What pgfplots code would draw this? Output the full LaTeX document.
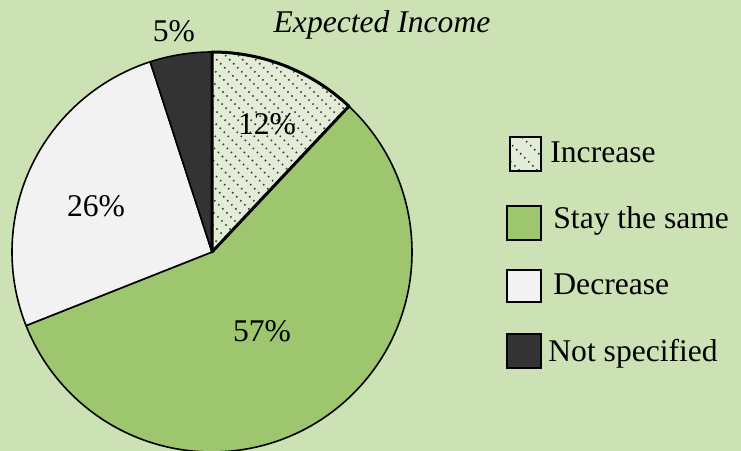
\documentclass[border=0pt]{standalone}
\usepackage{fontspec}
\setmainfont{Liberation Serif}
\usepackage{pgfplots}
\usepackage{pgfplotstable}
\pgfplotsset{compat=1.18}

\definecolor{bg}{RGB}{204,226,181}
\definecolor{col0}{RGB}{226,236,214}
\definecolor{col1}{RGB}{157,198,110}
\definecolor{col2}{RGB}{242,242,242}
\definecolor{col3}{RGB}{51,51,51}
\definecolor{dotcol}{RGB}{60,60,60}

% shares in percent, clockwise from 12 o'clock
\pgfplotstableread{
name value
Increase 12
Stay 57
Decrease 26
NotSpecified 5
}\piedata

\begin{document}
\fontsize{15.8bp}{19bp}\selectfont
\begin{tikzpicture}
\def\cum{90}
\pgfplotsforeachungrouped \i in {0,...,3}{%
  \pgfplotstablegetelem{\i}{value}\of\piedata
  \pgfmathsetmacro\nxt{\cum-3.6*\pgfplotsretval}%
  \expandafter\let\csname sa\i\endcsname\cum
  \expandafter\let\csname ea\i\endcsname\nxt
  \let\cum\nxt
}
\begin{axis}[
  width=370.5bp, height=225.5bp, scale only axis,
  xmin=0, xmax=741, ymin=0, ymax=451,
  hide axis, clip=true,
]
\fill[bg] (axis cs:0,0) rectangle (axis cs:741,451);

\pgfplotsinvokeforeach{0,1,2,3}{
  \filldraw[fill=col#1, line width=0.8bp, line join=round]
    (axis cs:212,199) -- ++(\csname sa#1\endcsname:100bp)
    arc[start angle=\csname sa#1\endcsname, end angle=\csname ea#1\endcsname, radius=100bp] -- cycle;
}

% dotted hatching of the "Increase" slice
\begin{scope}
  \clip (axis cs:212,199) -- ++(\csname sa0\endcsname:100bp)
    arc[start angle=\csname sa0\endcsname, end angle=\csname ea0\endcsname, radius=100bp] -- cycle;
  \pgfplotsforeachungrouped \c in {400,413,...,830}{%
    \pgfmathsetmacro\xa{\c-420}\pgfmathsetmacro\xb{\c-190}%
    \edef\temp{\noexpand\draw[dotcol, line width=0.75bp, dash pattern=on 0.75bp off 2.1bp] (axis cs:\xa,420) -- (axis cs:\xb,190);}\temp
  }
\end{scope}
\draw[line width=1.5bp, line join=round]
  (axis cs:212,199) -- ++(\csname sa0\endcsname:100bp)
  arc[start angle=\csname sa0\endcsname, end angle=\csname ea0\endcsname, radius=100bp] -- cycle;

% slice labels
\node[anchor=base, inner sep=0] at (axis cs:267,316) {12\%};
\node[anchor=base, inner sep=0] at (axis cs:262,109) {57\%};
\node[anchor=base, inner sep=0] at (axis cs:96,234) {26\%};
\node[anchor=base, inner sep=0] at (axis cs:174,409) {5\%};
\node[anchor=base, inner sep=0, font=\itshape] at (axis cs:382,418) {Expected Income};

% legend
\fill[col0] (axis cs:510,280) rectangle (axis cs:541,314);
\begin{scope}
  \clip (axis cs:510,280) rectangle (axis cs:541,314);
  \pgfplotsforeachungrouped \c in {800,818,...,872}{%
    \pgfmathsetmacro\xa{\c-330}\pgfmathsetmacro\xb{\c-270}%
    \edef\temp{\noexpand\draw[dotcol, line width=0.75bp, dash pattern=on 0.75bp off 2.1bp] (axis cs:\xa,330) -- (axis cs:\xb,270);}\temp
  }
\end{scope}
\draw[line width=1.3bp] (axis cs:510,280) rectangle (axis cs:541,314);
\filldraw[fill=col1, line width=1.3bp] (axis cs:507,211) rectangle (axis cs:541,245);
\filldraw[fill=col2, line width=1.3bp] (axis cs:507,149) rectangle (axis cs:541,181);
\filldraw[fill=col3, line width=1.3bp] (axis cs:507,83) rectangle (axis cs:541,117);
\node[anchor=base west, inner sep=0] at (axis cs:550,288) {Increase};
\node[anchor=base west, inner sep=0] at (axis cs:553,222) {Stay the same};
\node[anchor=base west, inner sep=0] at (axis cs:553,156) {Decrease};
\node[anchor=base west, inner sep=0] at (axis cs:548,89) {Not specified};
\end{axis}
\pgfresetboundingbox
\path[use as bounding box] (0,0) rectangle (370.5bp,225.5bp);
\end{tikzpicture}
\end{document}
